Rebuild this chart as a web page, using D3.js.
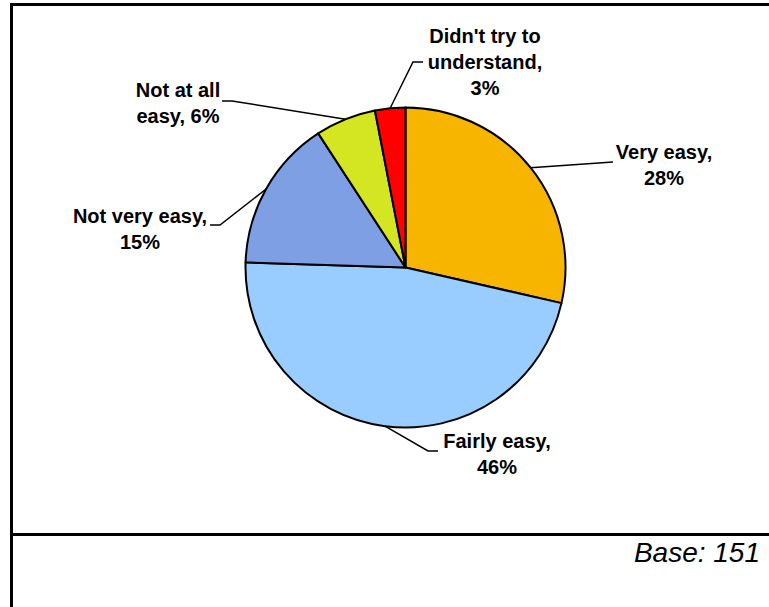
<!DOCTYPE html>
<html>
<head>
<meta charset="utf-8">
<script src="https://cdn.jsdelivr.net/npm/d3@7/dist/d3.min.js"></script>
<style>
  html, body { margin: 0; padding: 0; background: #fff; }
  svg { display: block; }
</style>
</head>
<body>
<svg id="chart" width="769" height="607"></svg>
<script>
// Data
const categories = ["Very easy", "Fairly easy", "Not very easy", "Not at all easy", "Didn't try to understand"];
const values = [28, 46, 15, 6, 3];
const labelLines = [
  ["Very easy,", "28%"],
  ["Fairly easy,", "46%"],
  ["Not very easy,", "15%"],
  ["Not at all", "easy, 6%"],
  ["Didn't try to", "understand,", "3%"]
];
const colors = ["#F7B500", "#99CCFF", "#7F9FE5", "#D4E621", "#FF0000"];
const baseText = "Base: 151";

// Layout
const W = 769, H = 607;
const cx = 405.5, cy = 267.5, R = 160;
// leader elbows and label centers (layout)
const leaders = [
  { elbow: [613, 162], end: [613, 162], text: [664, 159] },
  { elbow: [428, 451], end: [438, 451], text: [497, 448] },
  { elbow: [220, 225], end: [210, 225], text: [140, 223] },
  { elbow: [232, 101], end: [222, 101], text: [178, 97] },
  { elbow: [413, 62], end: [423, 62], text: [485, 43] }
];
const lineH = 26;

const svg = d3.select("#chart");

// frame
svg.append("line").attr("x1", 10).attr("x2", W).attr("y1", 4.5).attr("y2", 4.5)
  .attr("stroke", "#000").attr("stroke-width", 3);
svg.append("line").attr("x1", 11.5).attr("x2", 11.5).attr("y1", 3).attr("y2", H)
  .attr("stroke", "#000").attr("stroke-width", 3);
svg.append("line").attr("x1", 10).attr("x2", W).attr("y1", 534.5).attr("y2", 534.5)
  .attr("stroke", "#000").attr("stroke-width", 3);

const pie = d3.pie().sort(null).value(d => d)(values);
const arc = d3.arc().innerRadius(0).outerRadius(R);

const g = svg.append("g").attr("transform", `translate(${cx},${cy})`);
g.selectAll("path.slice").data(pie).enter().append("path")
  .attr("class", "slice")
  .attr("d", arc)
  .attr("fill", (d, i) => colors[i])
  .attr("stroke", "#000")
  .attr("stroke-width", 2)
  .attr("stroke-linejoin", "round");

// leader lines
pie.forEach((d, i) => {
  const a = (d.startAngle + d.endAngle) / 2;
  const sx = cx + Math.sin(a) * R;
  const sy = cy - Math.cos(a) * R;
  const L = leaders[i];
  svg.append("polyline")
    .attr("points", [[sx, sy], L.elbow, L.end].map(p => p.join(",")).join(" "))
    .attr("fill", "none").attr("stroke", "#000").attr("stroke-width", 1.5);
  const t = svg.append("text")
    .attr("x", L.text[0]).attr("y", L.text[1])
    .attr("text-anchor", "middle")
    .attr("font-family", "Liberation Sans, Arial, sans-serif")
    .attr("font-weight", "bold")
    .attr("font-size", 20)
    .attr("fill", "#000");
  labelLines[i].forEach((s, j) => {
    t.append("tspan").attr("x", L.text[0]).attr("y", L.text[1] + j * lineH).text(s);
  });
});

svg.append("text")
  .attr("x", 760).attr("y", 562)
  .attr("text-anchor", "end")
  .attr("font-family", "Liberation Sans, Arial, sans-serif")
  .attr("font-style", "italic")
  .attr("font-size", 28)
  .attr("fill", "#000")
  .text(baseText);
</script>
</body>
</html>
